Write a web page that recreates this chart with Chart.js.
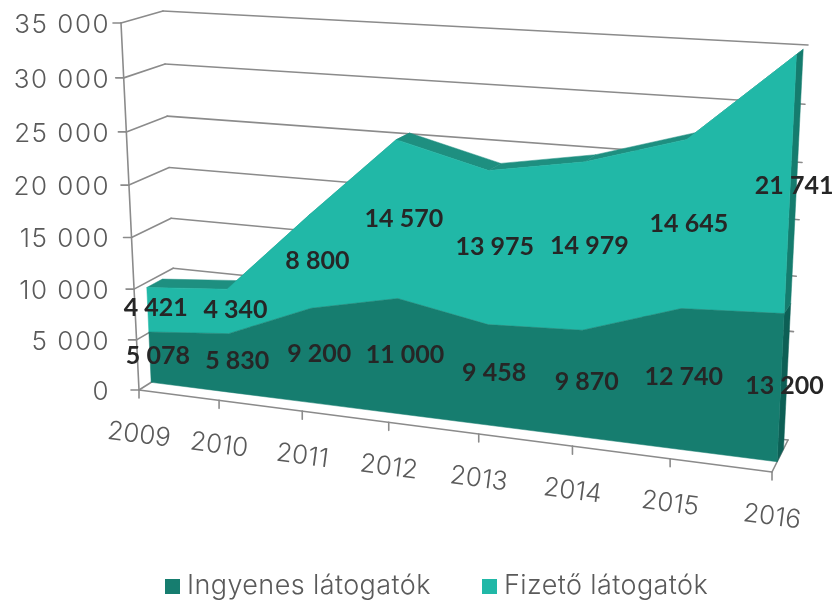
<!DOCTYPE html>
<html>
<head>
<meta charset="utf-8">
<script src="https://cdn.jsdelivr.net/npm/chart.js@4"></script>
<style>
html, body { margin: 0; padding: 0; background: #fff; }
#wrap { width: 835px; height: 600px; }
</style>
</head>
<body>
<div id="wrap"><canvas id="chart" width="835" height="600"></canvas></div>
<script>
var years = ['2009', '2010', '2011', '2012', '2013', '2014', '2015', '2016'];
var ingyenes = [5078, 5830, 9200, 11000, 9458, 9870, 12740, 13200];
var fizeto = [4421, 4340, 8800, 14570, 13975, 14979, 14645, 21741];
var yTicks = [0, 5000, 10000, 15000, 20000, 25000, 30000, 35000];

var darkTeal = '#167d6f';
var lightTeal = '#21b8a7';
var topFace = '#1e8f80';
var sideFaces = ['#0d5f55', '#157c6e'];
var gridColor = '#8b8b8b';
var inkColor = '#5a5a5a';
var labelColor = '#262626';

// corners of the 3d box: bottom left, bottom right, top right, top left
var frontQuad = [[139, 390], [772, 472], [791, 58], [121, 23]];
var backQuad = [[177, 366], [788, 440], [808, 45], [163, 11]];
var areaFront = 0.32;
var areaBack = 0.72;
var labelDepth = 0.5;
var uBend = 0.985;
var legendX = [165, 482];
var legendY = 586;

function homography(q) {
    var dx1 = q[1][0] - q[2][0], dx2 = q[3][0] - q[2][0], sx = q[0][0] - q[1][0] + q[2][0] - q[3][0];
    var dy1 = q[1][1] - q[2][1], dy2 = q[3][1] - q[2][1], sy = q[0][1] - q[1][1] + q[2][1] - q[3][1];
    var den = dx1 * dy2 - dx2 * dy1;
    var g = (sx * dy2 - dx2 * sy) / den;
    var h = (dx1 * sy - sx * dy1) / den;
    return {
        a: q[1][0] - q[0][0] + g * q[1][0], b: q[3][0] - q[0][0] + h * q[3][0], c: q[0][0],
        d: q[1][1] - q[0][1] + g * q[1][1], e: q[3][1] - q[0][1] + h * q[3][1], f: q[0][1],
        g: g, h: h
    };
}
var frontH = homography(frontQuad);
var backH = homography(backQuad);

function applyH(m, u, v) {
    var w = m.g * u + m.h * v + 1;
    return [(m.a * u + m.b * v + m.c) / w, (m.d * u + m.e * v + m.f) / w];
}

// u and v run 0..1 along the scales, depth 0 is the front of the box
function project(u, v, depth) {
    var bent = u * uBend / (1 - u + u * uBend);
    var p = applyH(frontH, bent, v);
    var q = applyH(backH, bent, v);
    return [p[0] + (q[0] - p[0]) * depth, p[1] + (q[1] - p[1]) * depth];
}

function scaleU(chart, x) {
    var s = chart.scales.x;
    return (x - s.left) / s.width;
}
function scaleV(chart, y) {
    var s = chart.scales.y;
    return (s.bottom - y) / s.height;
}

function poly(ctx, pts, color) {
    ctx.beginPath();
    pts.forEach(function (p, i) {
        if (i == 0) ctx.moveTo(p[0], p[1]);
        else ctx.lineTo(p[0], p[1]);
    });
    ctx.closePath();
    ctx.fillStyle = color;
    ctx.fill();
    // same colour hairline, closes the gaps between faces
    ctx.strokeStyle = color;
    ctx.lineWidth = 0.5;
    ctx.stroke();
}

function seg(ctx, a, b) {
    ctx.beginPath();
    ctx.moveTo(a[0], a[1]);
    ctx.lineTo(b[0], b[1]);
    ctx.stroke();
}

function drawFrame(chart) {
    var ctx = chart.ctx;
    var yScale = chart.scales.y;
    var xScale = chart.scales.x;
    ctx.save();
    ctx.strokeStyle = gridColor;
    ctx.lineWidth = 1.6;
    ctx.lineCap = 'round';
    yTicks.forEach(function (t) {
        var v = scaleV(chart, yScale.getPixelForValue(t));
        var a = project(0, v, 0), b = project(0, v, 1), c = project(1, v, 1);
        seg(ctx, [a[0] - 8, a[1]], a);
        seg(ctx, a, b);
        seg(ctx, b, c);
    });
    seg(ctx, project(0, 1, 0), project(0, 0, 0));
    seg(ctx, project(0, 0, 0), project(1, 0, 0));
    seg(ctx, project(1, 0, 0), project(1, 0, 1));
    years.forEach(function (y, i) {
        var p = project(scaleU(chart, xScale.getPixelForValue(i)), 0, 0);
        seg(ctx, p, [p[0], p[1] + 8]);
    });
    ctx.restore();
}

function drawAreas(chart) {
    var ctx = chart.ctx;
    var lower = chart.getDatasetMeta(0).data;
    var upper = chart.getDatasetMeta(1).data;
    var n = years.length;
    var base = chart.scales.y.bottom;
    function at(pt, depth) {
        return project(scaleU(chart, pt.x), scaleV(chart, pt.y), depth);
    }
    function atBase(pt, depth) {
        return project(scaleU(chart, pt.x), scaleV(chart, base), depth);
    }
    ctx.save();
    // right hand side of the block
    poly(ctx, [atBase(lower[n - 1], areaFront), atBase(lower[n - 1], areaBack), at(lower[n - 1], areaBack), at(lower[n - 1], areaFront)], sideFaces[0]);
    poly(ctx, [at(lower[n - 1], areaFront), at(lower[n - 1], areaBack), at(upper[n - 1], areaBack), at(upper[n - 1], areaFront)], sideFaces[1]);
    // top of the block
    for (var i = 0; i < n - 1; i++) {
        poly(ctx, [at(upper[i], areaFront), at(upper[i + 1], areaFront), at(upper[i + 1], areaBack), at(upper[i], areaBack)], topFace);
    }
    // front faces
    var front1 = [], front2 = [];
    lower.forEach(function (p) { front1.push(at(p, areaFront)); });
    for (i = n - 1; i >= 0; i--) front1.push(atBase(lower[i], areaFront));
    upper.forEach(function (p) { front2.push(at(p, areaFront)); });
    for (i = n - 1; i >= 0; i--) front2.push(at(lower[i], areaFront));
    poly(ctx, front2, lightTeal);
    poly(ctx, front1, darkTeal);
    ctx.restore();
}

function drawTexts(chart) {
    var ctx = chart.ctx;
    var yScale = chart.scales.y;
    var xScale = chart.scales.x;
    ctx.save();
    ctx.textBaseline = 'middle';
    ctx.fillStyle = inkColor;
    ctx.font = '300 26px Inter';
    ctx.letterSpacing = '1.5px';
    ctx.textAlign = 'right';
    yTicks.forEach(function (t) {
        var v = scaleV(chart, yScale.getPixelForValue(t));
        var p = project(0, v, 0);
        ctx.fillText(spaced(t), 110, p[1] + 2);
    });
    ctx.textAlign = 'center';
    ctx.letterSpacing = '0px';
    years.forEach(function (y, i) {
        var p = project(scaleU(chart, xScale.getPixelForValue(i)), 0, 0);
        ctx.save();
        ctx.translate(p[0], p[1] + 45);
        ctx.rotate(7.4 * Math.PI / 180);
        ctx.fillText(y, 0, 0);
        ctx.restore();
    });
    // legend
    ctx.textAlign = 'left';
    ctx.font = '300 27px Inter';
    ctx.letterSpacing = '0.4px';
    chart.data.datasets.forEach(function (ds, k) {
        ctx.fillStyle = ds.backgroundColor;
        ctx.fillRect(legendX[k], legendY - 7, 15, 15);
        ctx.fillStyle = inkColor;
        ctx.fillText(ds.label, legendX[k] + 22, legendY);
    });
    // data labels sit in the middle of each band
    ctx.fillStyle = labelColor;
    ctx.textAlign = 'center';
    ctx.letterSpacing = '0px';
    ctx.font = 'bold 25px Lato';
    [ingyenes, fizeto].forEach(function (values, k) {
        var pts = chart.getDatasetMeta(k).data;
        values.forEach(function (val, i) {
            var top = pts[i].y;
            var bottom = k == 0 ? yScale.bottom : chart.getDatasetMeta(k - 1).data[i].y;
            var p = project(scaleU(chart, pts[i].x), scaleV(chart, (top + bottom) / 2), labelDepth);
            ctx.fillText(spaced(val), p[0] + 1, p[1] + 2.5);
        });
    });
    ctx.restore();
}

function spaced(n) {
    return String(n).replace(/\B(?=(\d{3})+$)/g, ' ');
}

var box3d = {
    id: 'box3d',
    beforeDatasetsDraw: function (chart) {
        drawFrame(chart);
        drawAreas(chart);
    },
    afterDatasetsDraw: function (chart) {
        drawTexts(chart);
    }
};

new Chart(document.getElementById('chart'), {
    type: 'line',
    data: {
        labels: years,
        datasets: [
            { label: 'Ingyenes látogatók', data: ingyenes, backgroundColor: darkTeal, borderColor: darkTeal, fill: false, showLine: false, pointRadius: 0, borderWidth: 0 },
            { label: 'Fizető látogatók', data: fizeto, backgroundColor: lightTeal, borderColor: lightTeal, fill: false, showLine: false, pointRadius: 0, borderWidth: 0 }
        ]
    },
    plugins: [box3d],
    options: {
        responsive: false,
        animation: false,
        scales: {
            x: { display: false, stacked: true },
            y: { display: false, stacked: true, min: 0, max: 35000 }
        },
        plugins: {
            tooltip: { enabled: false },
            legend: { display: false }
        }
    }
});
</script>
</body>
</html>
